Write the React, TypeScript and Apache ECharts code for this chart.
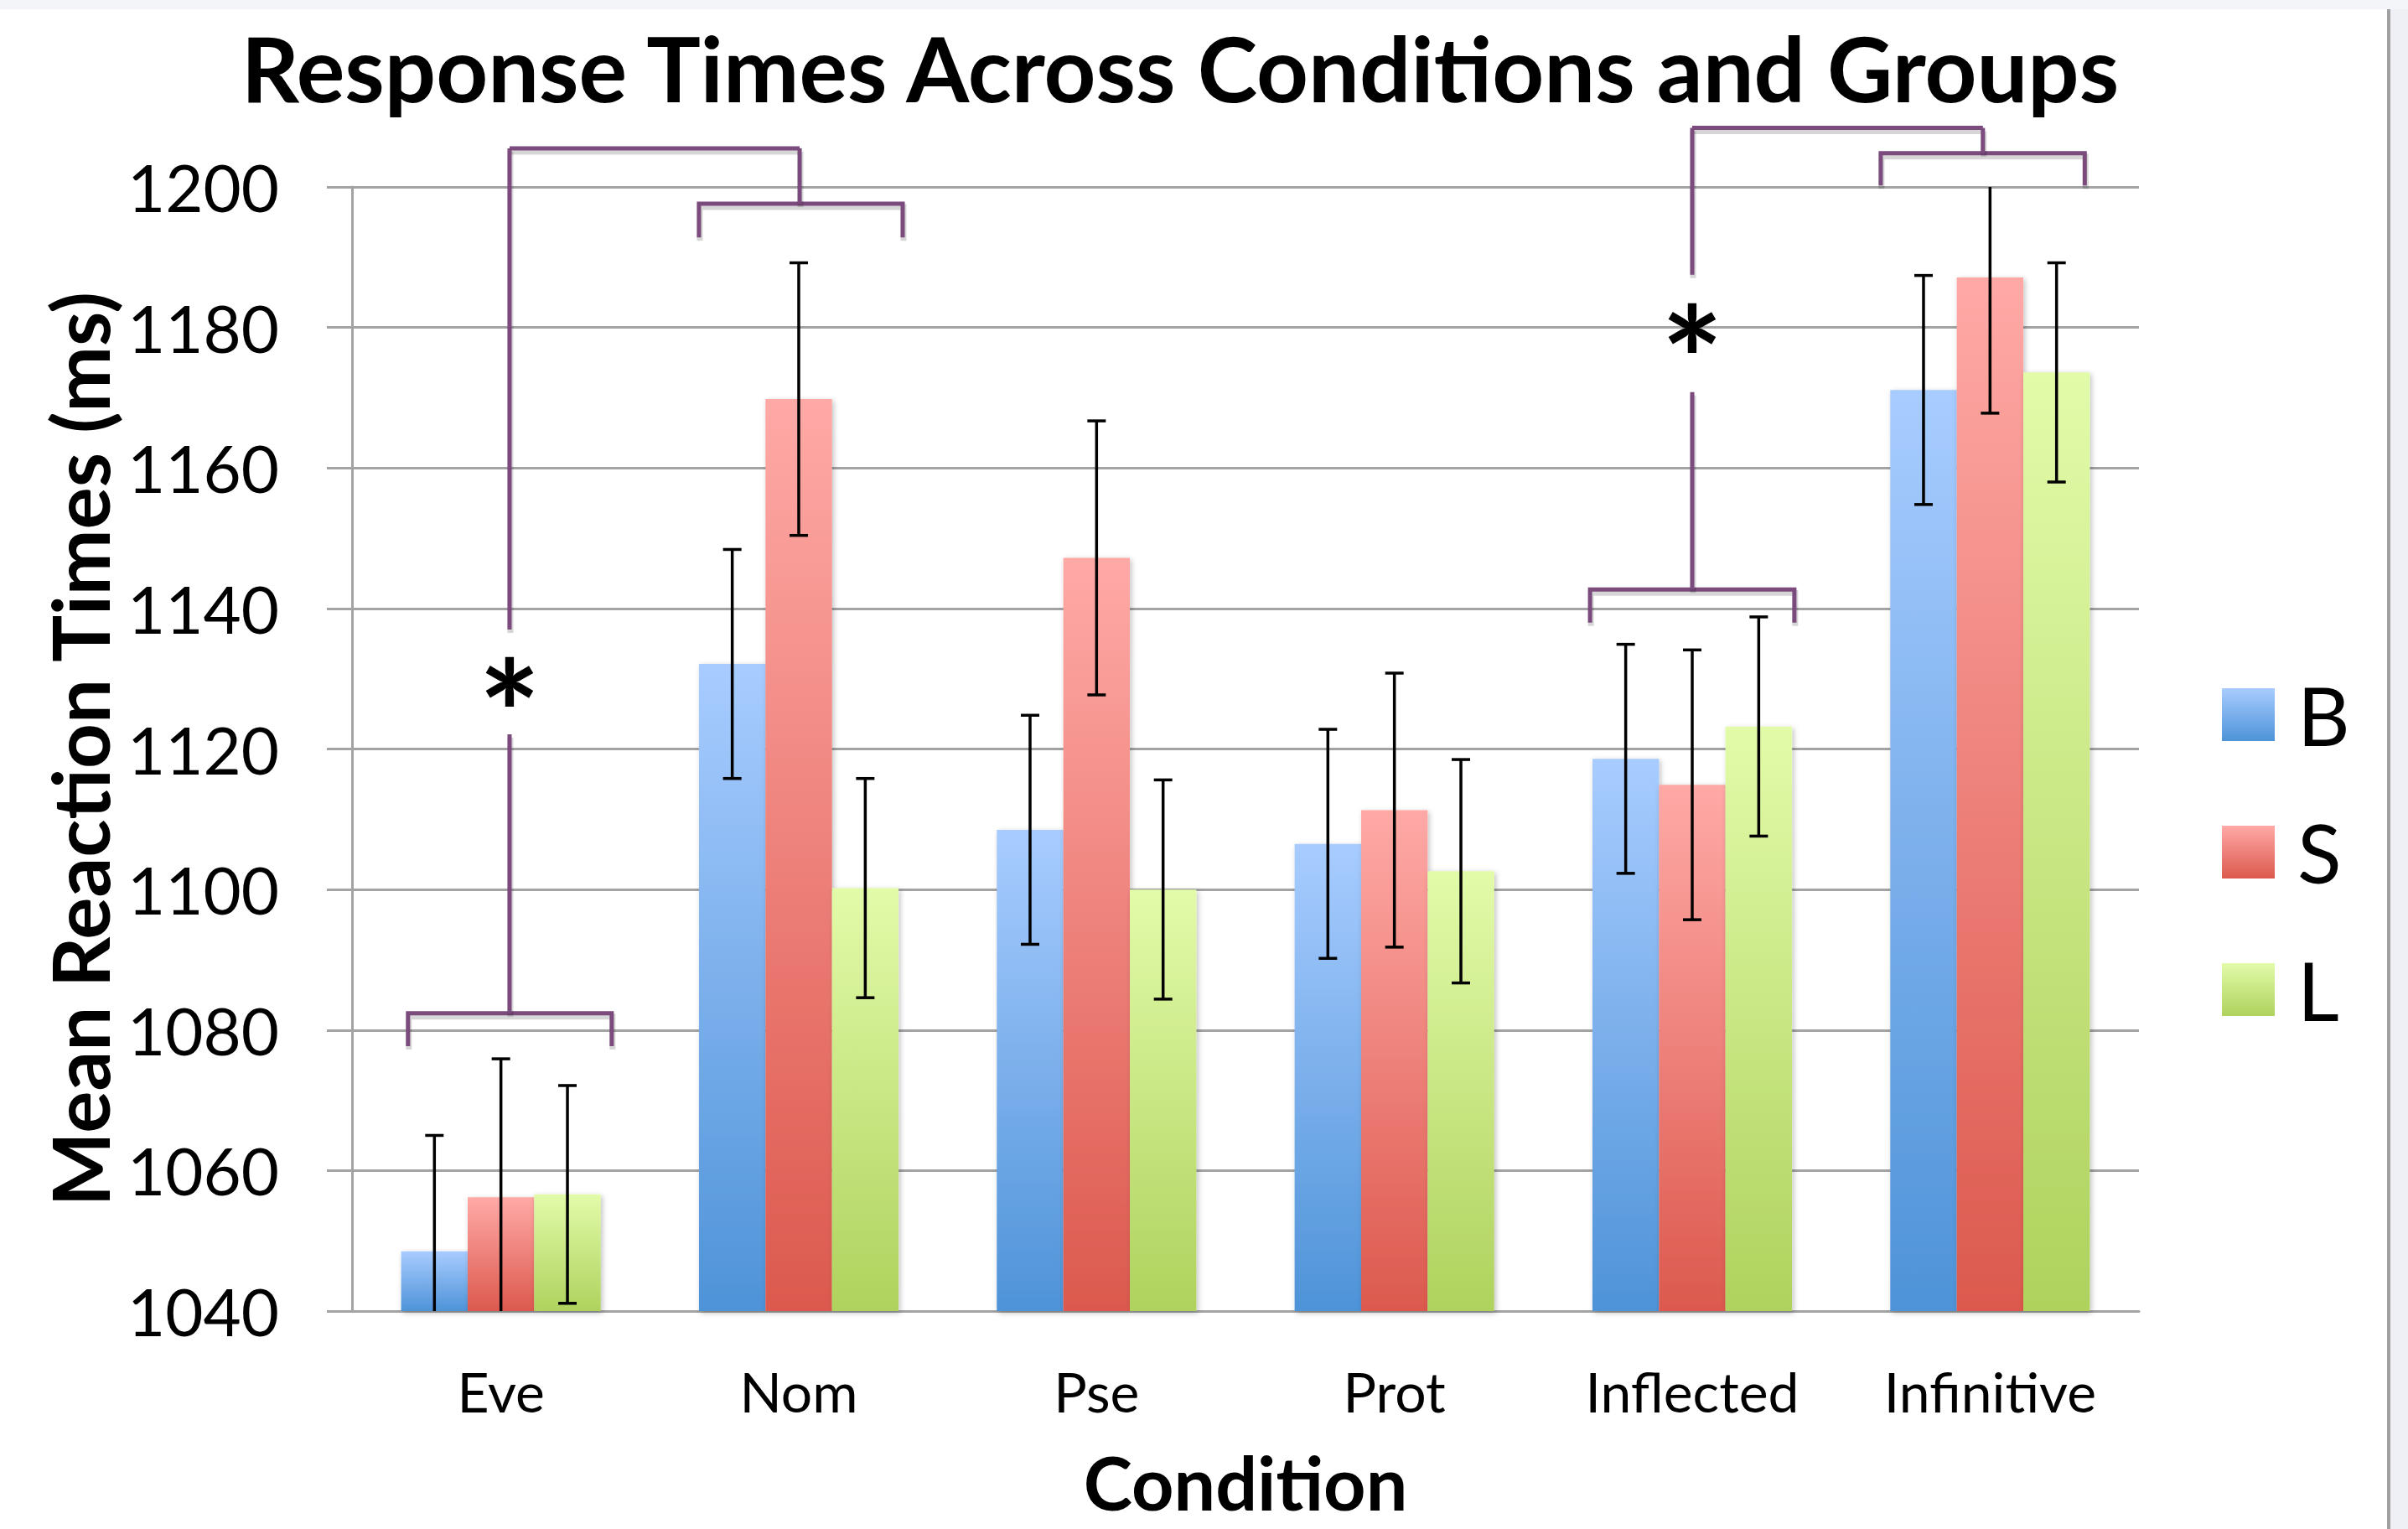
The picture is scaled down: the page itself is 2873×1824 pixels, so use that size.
import React, { useEffect, useRef } from 'react';
import * as echarts from 'echarts';

const categories = ['Eve', 'Nom', 'Pse', 'Prot', 'Inflected', 'Infinitive'];
const groups = ['B', 'S', 'L'];
const meanB = [1048.5, 1132.1, 1108.5, 1106.5, 1118.6, 1171.1];
const meanS = [1056.2, 1169.8, 1147.2, 1111.3, 1114.9, 1187.1];
const meanL = [1056.6, 1100.2, 1100.0, 1102.6, 1123.2, 1173.6];
const errB = [16.5, 16.3, 16.3, 16.3, 16.3, 16.3];
const errS = [19.7, 19.4, 19.5, 19.5, 19.2, 19.3];
const errL = [15.5, 15.6, 15.6, 15.9, 15.6, 15.6];
const yMin = 1040;
const yMax = 1200;
const yStep = 20;

// significance brackets, in category units / ms: [xFrom, xTo, yBar, yLegEnd]
const bracketSpans = [
  [-0.312, 0.372, 1082.4, 1077.7],
  [0.665, 1.349, 1197.6, 1192.8],
  [3.657, 4.343, 1142.7, 1138.0],
  [4.633, 5.318, 1204.8, 1200.2],
];
// connector segments: [x1, y1, x2, y2]
const connectorLines = [
  [0.029, 1205.5, 1.003, 1205.5],
  [1.003, 1205.5, 1.003, 1197.6],
  [0.029, 1205.5, 0.029, 1137.0],
  [0.029, 1122.1, 0.029, 1082.4],
  [4.0, 1208.4, 4.976, 1208.4],
  [4.976, 1208.4, 4.976, 1204.8],
  [4.0, 1208.4, 4.0, 1187.5],
  [4.0, 1170.8, 4.0, 1142.7],
];
const asterisks = [
  [0.029, 1129.4],
  [4.0, 1179.8],
];

const PURPLE = '#7B4B7E';
const GRID = '#A3A3A3';
const FONT = 'Lato';

const grad = (top: string, bottom: string) =>
  new echarts.graphic.LinearGradient(0, 0, 0, 1, [
    { offset: 0, color: top },
    { offset: 1, color: bottom },
  ]);

const shadowStyle = { stroke: 'rgba(0,0,0,0.16)', lineWidth: 7, fill: 'none' };
const mainStyle = { stroke: PURPLE, lineWidth: 5, fill: 'none' };

export default function App() {
  const ref = useRef<HTMLDivElement>(null);

  useEffect(() => {
    document.body.style.margin = '0';
    const chart = echarts.init(ref.current!, null, { renderer: 'svg' });

    const colors = [
      grad('#A8CCFF', '#4E93D8'),
      grad('#FFA9A6', '#DC594E'),
      grad('#E2FBA9', '#AFD25D'),
    ];
    const means = [meanB, meanS, meanL];
    const errs = [errB, errS, errL];
    const offsets = [-0.67 / 3, 0, 0.67 / 3];

    const barSeries = groups.map((g, k) => ({
      type: 'bar',
      name: g,
      xAxisIndex: 0,
      yAxisIndex: 0,
      data: means[k],
      barGap: '0%',
      barCategoryGap: '33%',
      itemStyle: {
        color: colors[k],
        shadowBlur: 6,
        shadowColor: 'rgba(0,0,0,0.25)',
        shadowOffsetX: 2,
        shadowOffsetY: 2,
      },
      z: 2,
    }));

    const errSeries = groups.map((g, k) => ({
      type: 'custom',
      name: g + ' error',
      xAxisIndex: 0,
      yAxisIndex: 0,
      z: 5,
      silent: true,
      encode: { x: 0, y: 1 },
      data: means[k].map((m, i) => [i, m, errs[k][i]]),
      renderItem: (params: any, api: any) => {
        const i = api.value(0);
        const m = api.value(1);
        const e = api.value(2);
        const c = api.coord([i, m]);
        const bw = api.size([1, 0])[0];
        const x = c[0] + offsets[k] * bw;
        const cs = params.coordSys;
        const top = cs.y;
        const bottom = cs.y + cs.height;
        let yHi = api.coord([i, m + e])[1];
        let yLo = api.coord([i, m - e])[1];
        const hiClip = yHi < top;
        const loClip = yLo > bottom;
        if (hiClip) yHi = top;
        if (loClip) yLo = bottom;
        const st = { stroke: '#000', lineWidth: 3.5 };
        const cap = 11;
        const children: any[] = [
          { type: 'line', shape: { x1: x, y1: yHi, x2: x, y2: yLo }, style: st },
        ];
        if (!hiClip)
          children.push({ type: 'line', shape: { x1: x - cap, y1: yHi, x2: x + cap, y2: yHi }, style: st });
        if (!loClip)
          children.push({ type: 'line', shape: { x1: x - cap, y1: yLo, x2: x + cap, y2: yLo }, style: st });
        return { type: 'group', children };
      },
    }));

    const bracketSeries = {
      type: 'custom',
      name: 'brackets',
      xAxisIndex: 1,
      yAxisIndex: 0,
      z: 6,
      silent: true,
      clip: false,
      encode: { x: 0, y: 2 },
      data: bracketSpans,
      renderItem: (params: any, api: any) => {
        const a = api.coord([api.value(0), api.value(3)]);
        const b = api.coord([api.value(0), api.value(2)]);
        const c = api.coord([api.value(1), api.value(2)]);
        const d = api.coord([api.value(1), api.value(3)]);
        const sh = [a, b, c, d].map((p: number[]) => [p[0] + 1, p[1] + 4]);
        return {
          type: 'group',
          children: [
            { type: 'polyline', shape: { points: sh }, style: shadowStyle },
            { type: 'polyline', shape: { points: [a, b, c, d] }, style: mainStyle },
          ],
        };
      },
    };

    const connectorSeries = {
      type: 'custom',
      name: 'connectors',
      xAxisIndex: 1,
      yAxisIndex: 0,
      z: 6,
      silent: true,
      clip: false,
      encode: { x: 0, y: 1 },
      data: connectorLines,
      renderItem: (params: any, api: any) => {
        const p = api.coord([api.value(0), api.value(1)]);
        const q = api.coord([api.value(2), api.value(3)]);
        return {
          type: 'group',
          children: [
            { type: 'line', shape: { x1: p[0] + 1, y1: p[1] + 4, x2: q[0] + 1, y2: q[1] + 4 }, style: shadowStyle },
            { type: 'line', shape: { x1: p[0], y1: p[1], x2: q[0], y2: q[1] }, style: mainStyle },
          ],
        };
      },
    };

    const asteriskSize = 175;
    const asteriskSeries = {
      type: 'custom',
      name: 'asterisks',
      xAxisIndex: 1,
      yAxisIndex: 0,
      z: 7,
      silent: true,
      clip: false,
      encode: { x: 0, y: 1 },
      data: asterisks,
      renderItem: (params: any, api: any) => {
        const p = api.coord([api.value(0), api.value(1)]);
        return {
          type: 'text',
          x: p[0],
          y: p[1] + asteriskSize * 0.19,
          style: {
            text: '*',
            fontFamily: FONT,
            fontWeight: 'bold',
            fontSize: asteriskSize,
            fill: '#000',
            align: 'center',
            verticalAlign: 'middle',
          },
        };
      },
    };

    const axisLineStyle = { color: GRID, width: 3 };

    chart.setOption({
      animation: false,
      backgroundColor: '#FFFFFF',
      graphic: [
        { type: 'rect', shape: { x: 0, y: 0, width: 2873, height: 11 }, style: { fill: '#F4F5F8' }, z: -10 },
        { type: 'rect', shape: { x: 2852, y: 11, width: 21, height: 1813 }, style: { fill: '#EEF0F5' }, z: -10 },
        { type: 'rect', shape: { x: 2848, y: 11, width: 4, height: 1813 }, style: { fill: '#A0A0A0' }, z: -10 },
        {
          type: 'text',
          x: 1408,
          y: 80,
          style: {
            text: 'Response Times Across Conditions and Groups',
            fontFamily: FONT,
            fontWeight: 'bold',
            fontSize: 108,
            fill: '#000',
            align: 'center',
            verticalAlign: 'middle',
          },
        },
      ],
      legend: {
        data: groups,
        orient: 'vertical',
        left: 2646,
        top: 799,
        itemWidth: 63,
        itemHeight: 63,
        itemGap: 67,
        icon: 'rect',
        textStyle: {
          fontFamily: FONT,
          fontSize: 97,
          color: '#000',
          padding: [0, 0, 0, 22],
        },
        selectedMode: false,
      },
      grid: { left: 420, right: 321, top: 223, bottom: 260, containLabel: false },
      xAxis: [
        {
          type: 'category',
          data: categories,
          axisLine: { lineStyle: axisLineStyle },
          axisTick: { show: false },
          axisLabel: { fontFamily: FONT, fontSize: 66, color: '#000', margin: 62 },
          name: 'Condition',
          nameLocation: 'middle',
          nameGap: 169,
          nameTextStyle: { fontFamily: FONT, fontSize: 88, fontWeight: 'bold', color: '#000', lineHeight: 70 },
        },
        {
          type: 'value',
          min: -0.5,
          max: 5.5,
          show: false,
        },
      ],
      yAxis: {
        type: 'value',
        min: yMin,
        max: yMax,
        interval: yStep,
        axisLine: { show: true, onZero: false, lineStyle: axisLineStyle },
        axisTick: { show: true, length: 30, lineStyle: { color: GRID, width: 3 } },
        axisLabel: {
          fontFamily: FONT,
          fontSize: 78,
          color: '#000',
          margin: 87,
          formatter: (v: number) => String(v),
        },
        splitLine: { lineStyle: { color: GRID, width: 3 } },
        name: 'Mean Reaction Times (ms)',
        nameLocation: 'middle',
        nameGap: 261,
        nameTextStyle: { fontFamily: FONT, fontSize: 94, fontWeight: 'bold', color: '#000' },
      },
      series: [...barSeries, ...errSeries, bracketSeries, connectorSeries, asteriskSeries],
    });

    return () => chart.dispose();
  }, []);

  return <div ref={ref} style={{ width: 2873, height: 1824 }} />;
}
